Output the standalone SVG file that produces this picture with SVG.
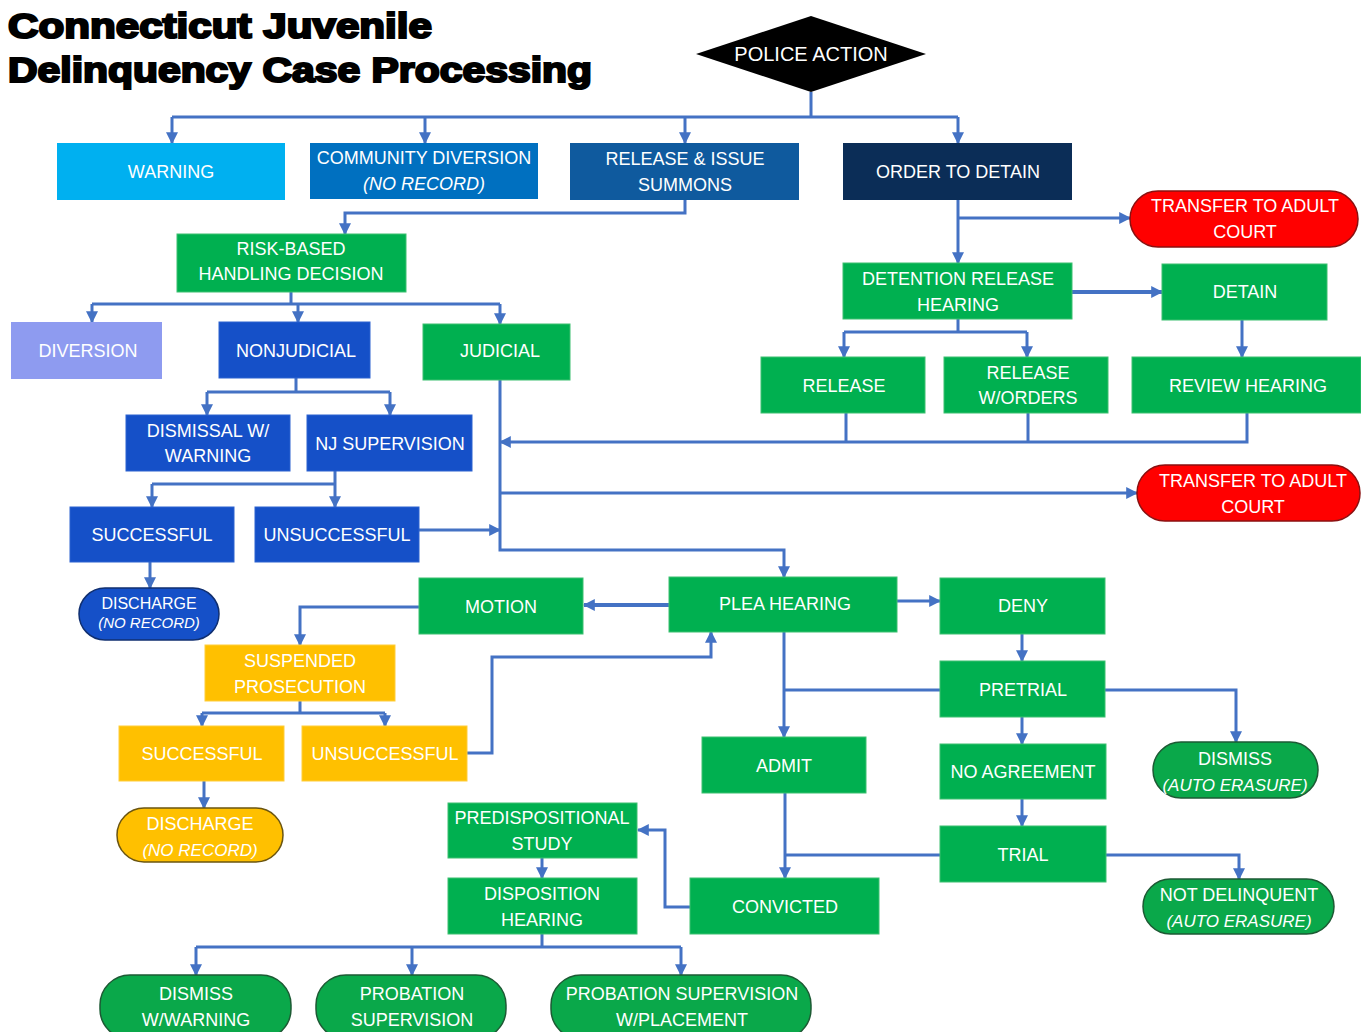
<svg xmlns="http://www.w3.org/2000/svg" width="1361" height="1032" viewBox="0 0 1361 1032">
<defs>
<marker id="arr" viewBox="0 0 10 10" refX="9" refY="5" markerWidth="12" markerHeight="12" markerUnits="userSpaceOnUse" orient="auto"><path d="M0,0 L10,5 L0,10 z" fill="#4472C4"/></marker>
</defs>
<style>
.t{font-family:"Liberation Sans",Arial,sans-serif;font-size:18px;fill:#fff;text-anchor:middle}
.i{font-style:italic}
.s{font-size:17px}
.title{font-family:"Liberation Sans",Arial,sans-serif;font-weight:900;font-size:35px;fill:#000;stroke:#000;stroke-width:2.2}
.c{fill:none;stroke:#4472C4;stroke-width:3}
.a{marker-end:url(#arr)}
.g{fill:#00B050;stroke:#3cc070;stroke-width:1}
.gp{fill:#0AA84A;stroke:#1d5a34;stroke-width:1.5}
.b{fill:#1550C8;stroke:#2d62d0;stroke-width:1}
.y{fill:#FFC000;stroke:#ffcd3a;stroke-width:1}
.r{fill:#FF0000;stroke:#8a1010;stroke-width:1.5}
</style>
<rect width="1361" height="1032" fill="#fff"/>
<g id="title">
<text class="title" x="8" y="38" textLength="424" lengthAdjust="spacingAndGlyphs">Connecticut Juvenile</text>
<text class="title" x="8" y="82" textLength="584" lengthAdjust="spacingAndGlyphs">Delinquency Case Processing</text>
</g>
<g id="connectors">
<path class="c" d="M811,92 V117 M172,117 H958"/>
<path class="c a" d="M172,117 V143"/>
<path class="c a" d="M425,117 V143"/>
<path class="c a" d="M685,117 V143"/>
<path class="c a" d="M958,117 V143"/>
<path class="c a" d="M685,200 V213 H345 V234"/>
<path class="c" d="M291,292 V304 M92,304 H500"/>
<path class="c a" d="M92,304 V322"/>
<path class="c a" d="M298,304 V322"/>
<path class="c a" d="M500,304 V324"/>
<path class="c" d="M296,378 V392 M207,392 H390"/>
<path class="c a" d="M207,392 V415"/>
<path class="c a" d="M390,392 V415"/>
<path class="c" d="M335,471 V484 M152,484 H335"/>
<path class="c a" d="M152,484 V507"/>
<path class="c a" d="M335,484 V507"/>
<path class="c a" d="M150,562 V588"/>
<path class="c a" d="M419,530 H500"/>
<path class="c a" d="M500,380 V550 H784 V577"/>
<path class="c" d="M846,413 V442 M1028,413 V442"/>
<path class="c a" d="M1247,413 V442 H500"/>
<path class="c a" d="M500,493 H1137"/>
<path class="c a" d="M958,200 V263"/>
<path class="c a" d="M958,218 H1130"/>
<path class="c a" d="M1072,292 H1162" style="stroke-width:4"/>
<path class="c a" d="M1242,320 V357"/>
<path class="c" d="M958,319 V332 M844,332 H1027"/>
<path class="c a" d="M844,332 V357"/>
<path class="c a" d="M1027,332 V357"/>
<path class="c a" d="M669,605 H584" style="stroke-width:4"/>
<path class="c a" d="M897,601 H940"/>
<path class="c a" d="M419,607 H300 V645"/>
<path class="c" d="M300,701 V713 M202,713 H385"/>
<path class="c a" d="M202,713 V726"/>
<path class="c a" d="M385,713 V726"/>
<path class="c a" d="M467,753 H492 V657 H711 V632"/>
<path class="c a" d="M204,781 V808"/>
<path class="c a" d="M784,632 V737"/>
<path class="c a" d="M1022,634 V661"/>
<path class="c" d="M940,690 H784"/>
<path class="c a" d="M1105,690 H1236 V742"/>
<path class="c a" d="M1022,717 V744"/>
<path class="c a" d="M1022,799 V826"/>
<path class="c" d="M940,855 H786"/>
<path class="c a" d="M785,793 V878"/>
<path class="c a" d="M1106,855 H1239 V879"/>
<path class="c a" d="M690,907 H665 V830 H638"/>
<path class="c a" d="M542,858 V878"/>
<path class="c" d="M542,934 V947 M196,947 H681"/>
<path class="c a" d="M196,947 V975"/>
<path class="c a" d="M412,947 V975"/>
<path class="c a" d="M681,947 V975"/>
</g>
<g id="police-action"><polygon points="696,54 811,16 926,54 811,92" fill="#000"/><text class="t" x="811" y="61" style="font-size:20px">POLICE ACTION</text></g>
<g id="warning"><rect x="57" y="143" width="228" height="57" fill="#00B0F0"/><text class="t" x="171" y="178">WARNING</text></g>
<g id="community-diversion"><rect x="310" y="143" width="228" height="56" fill="#0070C0"/><text class="t" x="424" y="164">COMMUNITY DIVERSION</text><text class="t i" x="424" y="190">(NO RECORD)</text></g>
<g id="release-summons"><rect x="570" y="143" width="229" height="57" fill="#0F5A9E"/><text class="t" x="685" y="165">RELEASE &amp; ISSUE</text><text class="t" x="685" y="191">SUMMONS</text></g>
<g id="order-to-detain"><rect x="843" y="143" width="229" height="57" fill="#0B2D57"/><text class="t" x="958" y="178">ORDER TO DETAIN</text></g>
<g id="transfer-1"><rect class="r" x="1130" y="191" width="228" height="56" rx="28"/><text class="t" x="1245" y="212">TRANSFER TO ADULT</text><text class="t" x="1245" y="238">COURT</text></g>
<g id="risk-based"><rect class="g" x="177" y="234" width="229" height="58"/><text class="t" x="291" y="255">RISK-BASED</text><text class="t" x="291" y="280">HANDLING DECISION</text></g>
<g id="detention-release-hearing"><rect class="g" x="843" y="263" width="229" height="56"/><text class="t" x="958" y="285">DETENTION RELEASE</text><text class="t" x="958" y="311">HEARING</text></g>
<g id="detain"><rect class="g" x="1162" y="264" width="165" height="56"/><text class="t" x="1245" y="298">DETAIN</text></g>
<g id="diversion"><rect x="11" y="322" width="151" height="57" fill="#8E9BF0"/><text class="t" x="88" y="357">DIVERSION</text></g>
<g id="nonjudicial"><rect class="b" x="219" y="322" width="151" height="56"/><text class="t" x="296" y="357">NONJUDICIAL</text></g>
<g id="judicial"><rect class="g" x="423" y="324" width="147" height="56"/><text class="t" x="500" y="357">JUDICIAL</text></g>
<g id="release"><rect class="g" x="761" y="357" width="164" height="56"/><text class="t" x="844" y="392">RELEASE</text></g>
<g id="release-orders"><rect class="g" x="944" y="357" width="164" height="56"/><text class="t" x="1028" y="379">RELEASE</text><text class="t" x="1028" y="404">W/ORDERS</text></g>
<g id="review-hearing"><rect class="g" x="1132" y="357" width="229" height="56"/><text class="t" x="1248" y="392">REVIEW HEARING</text></g>
<g id="dismissal-warning"><rect class="b" x="126" y="415" width="164" height="56"/><text class="t" x="208" y="437">DISMISSAL W/</text><text class="t" x="208" y="462">WARNING</text></g>
<g id="nj-supervision"><rect class="b" x="307" y="415" width="165" height="56"/><text class="t" x="390" y="450">NJ SUPERVISION</text></g>
<g id="transfer-2"><rect class="r" x="1137" y="465" width="223" height="56" rx="28"/><text class="t" x="1253" y="487">TRANSFER TO ADULT</text><text class="t" x="1253" y="513">COURT</text></g>
<g id="nj-successful"><rect class="b" x="70" y="507" width="164" height="55"/><text class="t" x="152" y="541">SUCCESSFUL</text></g>
<g id="nj-unsuccessful"><rect class="b" x="255" y="507" width="164" height="55"/><text class="t" x="337" y="541">UNSUCCESSFUL</text></g>
<g id="nj-discharge"><rect x="79" y="588" width="140" height="52" rx="26" fill="#1550C8" stroke="#102f70" stroke-width="1.5"/><text class="t" x="149" y="609" style="font-size:16px">DISCHARGE</text><text class="t i" x="149" y="628" style="font-size:15px">(NO RECORD)</text></g>
<g id="motion"><rect class="g" x="419" y="578" width="164" height="56"/><text class="t" x="501" y="613">MOTION</text></g>
<g id="plea-hearing"><rect class="g" x="669" y="577" width="228" height="55"/><text class="t" x="785" y="610">PLEA HEARING</text></g>
<g id="deny"><rect class="g" x="940" y="578" width="165" height="56"/><text class="t" x="1023" y="612">DENY</text></g>
<g id="suspended-prosecution"><rect class="y" x="205" y="645" width="190" height="56"/><text class="t" x="300" y="667">SUSPENDED</text><text class="t" x="300" y="693">PROSECUTION</text></g>
<g id="pretrial"><rect class="g" x="940" y="661" width="165" height="56"/><text class="t" x="1023" y="696">PRETRIAL</text></g>
<g id="sp-successful"><rect class="y" x="119" y="726" width="165" height="55"/><text class="t" x="202" y="760">SUCCESSFUL</text></g>
<g id="sp-unsuccessful"><rect class="y" x="302" y="726" width="165" height="55"/><text class="t" x="385" y="760">UNSUCCESSFUL</text></g>
<g id="admit"><rect class="g" x="702" y="737" width="164" height="56"/><text class="t" x="784" y="772">ADMIT</text></g>
<g id="dismiss-erasure"><rect class="gp" x="1153" y="742" width="165" height="56" rx="28"/><text class="t" x="1235" y="765">DISMISS</text><text class="t i s" x="1235" y="791">(AUTO ERASURE)</text></g>
<g id="no-agreement"><rect class="g" x="940" y="744" width="166" height="55"/><text class="t" x="1023" y="778">NO AGREEMENT</text></g>
<g id="sp-discharge"><rect x="117" y="808" width="166" height="54" rx="27" fill="#FFC000" stroke="#6b5510" stroke-width="1.5"/><text class="t" x="200" y="830">DISCHARGE</text><text class="t i s" x="200" y="856">(NO RECORD)</text></g>
<g id="predispositional-study"><rect class="g" x="448" y="803" width="189" height="55"/><text class="t" x="542" y="824">PREDISPOSITIONAL</text><text class="t" x="542" y="850">STUDY</text></g>
<g id="trial"><rect class="g" x="940" y="826" width="166" height="56"/><text class="t" x="1023" y="861">TRIAL</text></g>
<g id="disposition-hearing"><rect class="g" x="448" y="878" width="189" height="56"/><text class="t" x="542" y="900">DISPOSITION</text><text class="t" x="542" y="926">HEARING</text></g>
<g id="convicted"><rect class="g" x="690" y="878" width="189" height="56"/><text class="t" x="785" y="913">CONVICTED</text></g>
<g id="not-delinquent"><rect class="gp" x="1143" y="879" width="191" height="55" rx="27.5"/><text class="t" x="1239" y="901">NOT DELINQUENT</text><text class="t i s" x="1239" y="927">(AUTO ERASURE)</text></g>
<g id="dismiss-warning"><rect class="gp" x="100" y="975" width="191" height="64" rx="30"/><text class="t" x="196" y="1000">DISMISS</text><text class="t" x="196" y="1026">W/WARNING</text></g>
<g id="probation-supervision"><rect class="gp" x="316" y="975" width="190" height="64" rx="30"/><text class="t" x="412" y="1000">PROBATION</text><text class="t" x="412" y="1026">SUPERVISION</text></g>
<g id="probation-placement"><rect class="gp" x="551" y="975" width="260" height="64" rx="30"/><text class="t" x="682" y="1000">PROBATION SUPERVISION</text><text class="t" x="682" y="1026">W/PLACEMENT</text></g>
</svg>
